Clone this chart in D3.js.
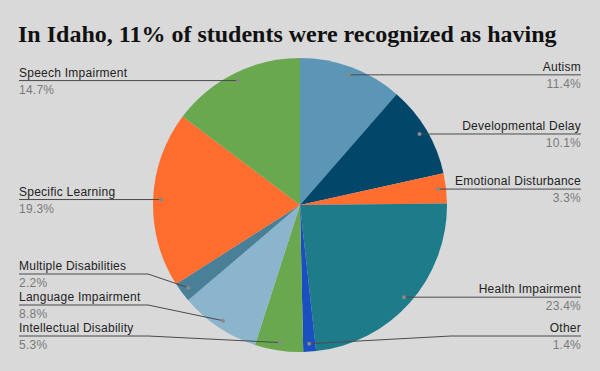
<!DOCTYPE html>
<html lang="en">
<head>
    <meta charset="UTF-8">
    <title>Idaho disability categories</title>
    <script src="https://d3js.org/d3.v7.min.js"></script>
    <style>
        body { margin: 0; background: #d9d9d9; }
        svg { display: block; }
    </style>
</head>
<body>
<svg width="600" height="371"></svg>
<script>
    // data, clockwise from 12 o'clock
    const categories = ["Autism", "Developmental Delay", "Emotional Disturbance", "Health Impairment", "Other",
        "Intellectual Disability", "Language Impairment", "Multiple Disabilities", "Specific Learning", "Speech Impairment"];
    const percents = [11.4, 10.1, 3.3, 23.4, 1.4, 5.3, 8.8, 2.2, 19.3, 14.7];
    const colors = ["#5b96b6", "#02476a", "#ff6d2f", "#1e7b8a", "#1a4fc0",
        "#6aa84f", "#8bb5cd", "#4a7f98", "#ff6d2f", "#6aa84f"];

    const svg = d3.select("svg");
    const W = 600, H = 371;
    const cx = 300, cy = 205, R = 147;

    svg.append("rect").attr("width", W).attr("height", H).attr("fill", "#d9d9d9");

    svg.append("text")
        .attr("x", 18).attr("y", 42)
        .attr("font-family", "'Liberation Serif', 'Times New Roman', serif")
        .attr("font-weight", "bold")
        .attr("font-size", 24)
        .attr("fill", "#111")
        .text("In Idaho, 11% of students were recognized as having");

    const data = categories.map((c, i) => ({ name: c, value: percents[i], color: colors[i] }));

    const pie = d3.pie().value(d => d.value).sort(null);
    const arcs = pie(data);
    const arc = d3.arc().innerRadius(0).outerRadius(R);
    const anchorArc = d3.arc().innerRadius(139 * 2 - R).outerRadius(R); // centroid at r=139

    const g = svg.append("g").attr("transform", `translate(${cx},${cy})`);
    g.selectAll("path")
        .data(arcs)
        .enter()
        .append("path")
        .attr("d", arc)
        .attr("fill", d => d.data.color);

    // label positions: start at anchor, push apart
    const maxY = 336, gap = 31;
    arcs.forEach(a => {
        const p = anchorArc.centroid(a);
        a.ax = cx + p[0];
        a.ay = cy + p[1];
        a.right = (a.startAngle + a.endAngle) / 2 < Math.PI;
        a.ly = a.ay;
    });
    [true, false].forEach(side => {
        const list = arcs.filter(a => a.right === side).sort((a, b) => b.ay - a.ay);
        let limit = maxY;
        list.forEach(a => {
            a.ly = Math.min(a.ay, limit);
            limit = a.ly - gap;
        });
    });

    const labels = svg.append("g")
        .attr("font-family", "Arial, 'Liberation Sans', sans-serif")
        .attr("font-size", 12)
        .attr("letter-spacing", 0.25);

    arcs.forEach(a => {
        const tx = a.right ? 581 : 19;
        const elbow = a.right ? cx + R + 4 : cx - R - 5;
        let pts = [[tx, a.ly]];
        if (Math.abs(a.ly - a.ay) > 0.5) pts.push([elbow, a.ly]);
        pts.push([a.ax, a.ay]);

        labels.append("path")
            .attr("d", d3.line()(pts))
            .attr("fill", "none")
            .attr("stroke", "#4a4a4a")
            .attr("stroke-width", 1);
        labels.append("circle")
            .attr("cx", a.ax).attr("cy", a.ay).attr("r", 2)
            .attr("fill", "#888");
        labels.append("text")
            .attr("x", tx).attr("y", a.ly - 4)
            .attr("text-anchor", a.right ? "end" : "start")
            .attr("fill", "#222")
            .text(a.data.name);
        labels.append("text")
            .attr("x", tx).attr("y", a.ly + 13)
            .attr("text-anchor", a.right ? "end" : "start")
            .attr("fill", "#7a7a7a")
            .text(d3.format(".1f")(a.data.value) + "%");
    });
</script>
</body>
</html>
